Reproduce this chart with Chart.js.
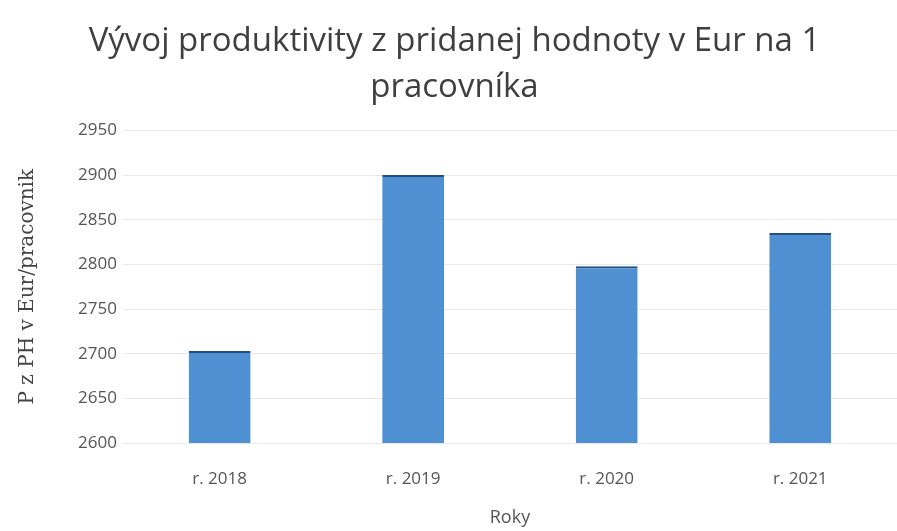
<!DOCTYPE html>
<html>
<head>
<meta charset="utf-8">
<script src="https://cdn.jsdelivr.net/npm/chart.js@4/dist/chart.umd.min.js"></script>
<style>
  html, body { margin: 0; padding: 0; background: #fff; }
  #wrap { width: 897px; height: 531px; }
</style>
</head>
<body>
<div id="wrap"><canvas id="graf"></canvas></div>
<script>
// hodnoty odčítané z obrázku
const roky = ['r. 2018', 'r. 2019', 'r. 2020', 'r. 2021'];
const produktivita = [2703, 2900, 2798, 2835];
const osY = { min: 2600, max: 2950, krok: 50 };

const ctx = document.getElementById('graf');

new Chart(ctx, {
  type: 'bar',
  data: {
    labels: roky,
    datasets: [{
      label: 'P z PH v Eur/pracovnik',
      data: produktivita,
      backgroundColor: '#4f90d2',
      borderColor: '#24507f',
      borderWidth: { top: 2, bottom: 2, left: 0, right: 0 },
      borderSkipped: false,
      barPercentage: 0.64,
      categoryPercentage: 0.5
    }]
  },
  options: {
    responsive: true,
    maintainAspectRatio: false,
    animation: false,
    layout: { padding: { left: 12, right: 0, top: 12, bottom: 0 } },
    plugins: {
      legend: { display: false },
      tooltip: { enabled: false },
      title: {
        display: true,
        text: ['Vývoj produktivity z pridanej hodnoty v Eur na 1', 'pracovníka'],
        color: '#3f3f3f',
        font: { family: 'Open Sans', size: 33, weight: 'normal', lineHeight: 1.4 },
        padding: { top: 6, bottom: 20 }
      }
    },
    scales: {
      x: {
        grid: { display: false },
        border: { display: false },
        ticks: { color: '#555', font: { family: 'Open Sans', size: 17 }, padding: 18 },
        title: {
          display: true,
          text: 'Roky',
          color: '#555',
          font: { family: 'Open Sans', size: 18 },
          padding: { top: 0, bottom: 2 }
        }
      },
      y: {
        min: osY.min,
        max: osY.max,
        grid: { color: '#e8e8e8', drawTicks: false },
        border: { display: false },
        ticks: {
          stepSize: osY.krok,
          color: '#555',
          font: { family: 'Open Sans', size: 17 },
          padding: 6,
          callback: v => String(v)
        },
        title: {
          display: true,
          text: 'P z PH v Eur/pracovnik',
          color: '#444',
          font: { family: 'DejaVu Serif', size: 20 },
          padding: { bottom: 32 }
        }
      }
    }
  }
});
</script>
</body>
</html>
